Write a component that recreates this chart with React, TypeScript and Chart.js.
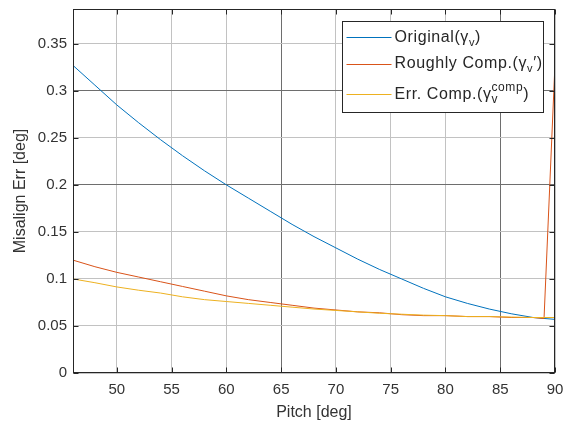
import React, { useEffect, useRef } from "react";
import { Chart, registerables } from "chart.js";

Chart.register(...registerables);

// ---- data ----
const pitch = [46, 48, 50, 52, 54, 56, 58, 60, 62, 64, 66, 68, 70, 72, 74, 76, 78, 80, 82, 84, 86, 88, 89, 90];
const original = [0.327, 0.306, 0.285, 0.266, 0.248, 0.231, 0.215, 0.2, 0.186, 0.172, 0.158, 0.145, 0.133, 0.121, 0.11, 0.1, 0.09, 0.081, 0.074, 0.068, 0.063, 0.059, 0.058, 0.057];
const roughlyComp = [0.12, 0.113, 0.107, 0.102, 0.097, 0.092, 0.087, 0.082, 0.078, 0.075, 0.072, 0.069, 0.067, 0.065, 0.064, 0.062, 0.061, 0.061, 0.06, 0.06, 0.059, 0.059, 0.058, 0.329];
const errComp = [0.1, 0.096, 0.0915, 0.088, 0.085, 0.081, 0.078, 0.076, 0.074, 0.072, 0.07, 0.068, 0.0665, 0.065, 0.0635, 0.0625, 0.0615, 0.061, 0.06, 0.06, 0.0595, 0.059, 0.059, 0.059];

const xTicks = [50, 55, 60, 65, 70, 75, 80, 85, 90];
const yTicks = [0, 0.05, 0.1, 0.15, 0.2, 0.25, 0.3, 0.35];

const xTitle = "Pitch [deg]";
const yTitle = "Misalign Err [deg]";

// legend label pieces: [text, kind]; kind: n = normal, sub, subsup = stacked sub "v" + sup text
const legendOriginal: [string, string][] = [["Original(γ", "n"], ["v", "sub"], [")", "n"]];
const legendRoughly: [string, string][] = [["Roughly Comp.(γ", "n"], ["v", "sub"], ["′)", "n"]];
const legendErr: [string, string][] = [["Err. Comp.(γ", "n"], ["v|comp", "subsup"], [")", "n"]];

const BLUE = "#0072BD";
const ORANGE = "#D95319";
const YELLOW = "#EDB120";
const TEXT = "#333333";
const FONT = "'Liberation Sans', Arial, Helvetica, sans-serif";

const darkX = [65, 85];
const darkY = [0.2, 0.3];

const matlabPlugin = {
  id: "matlabAxes",
  afterDatasetsDraw(chart: any) {
    const { ctx, chartArea, scales } = chart;
    const { left, right, top, bottom } = chartArea;
    const L = Math.round(left) + 0.5;
    const R = Math.round(right) - 0.5;
    const T = Math.round(top) + 0.5;
    const B = Math.round(bottom) - 0.5;
    ctx.save();
    ctx.strokeStyle = "#262626";
    ctx.lineWidth = 1;
    ctx.strokeRect(L, T, R - L, B - T);
    const tl = 5;
    ctx.beginPath();
    xTicks.forEach((v) => {
      const px = Math.round(scales.x.getPixelForValue(v)) + 0.5;
      ctx.moveTo(px, B);
      ctx.lineTo(px, B - tl);
      ctx.moveTo(px, T);
      ctx.lineTo(px, T + tl);
    });
    yTicks.forEach((v) => {
      const py = Math.round(scales.y.getPixelForValue(v)) + 0.5;
      ctx.moveTo(L, py);
      ctx.lineTo(L + tl, py);
      ctx.moveTo(R, py);
      ctx.lineTo(R - tl, py);
    });
    ctx.stroke();

    // legend
    const bw = 201;
    const bh = 91;
    const bx = Math.round(right) - 12 - bw + 0.5;
    const by = Math.round(top) + 12 + 0.5;
    ctx.fillStyle = "#ffffff";
    ctx.fillRect(bx, by, bw, bh);
    ctx.strokeStyle = "#262626";
    ctx.strokeRect(bx, by, bw, bh);

    const rows = [
      { color: BLUE, parts: legendOriginal, ly: 15, ty: 20 },
      { color: ORANGE, parts: legendRoughly, ly: 42, ty: 46 },
      { color: YELLOW, parts: legendErr, ly: 72, ty: 77 },
    ];
    rows.forEach((row) => {
      ctx.strokeStyle = row.color;
      ctx.lineWidth = 1;
      ctx.beginPath();
      ctx.moveTo(bx + 4, Math.round(by + row.ly) + 0.5);
      ctx.lineTo(bx + 49, Math.round(by + row.ly) + 0.5);
      ctx.stroke();
      let x = bx + 52;
      const base = by + row.ty;
      ctx.fillStyle = "#262626";
      ctx.textAlign = "left";
      ctx.textBaseline = "alphabetic";
      (ctx as any).letterSpacing = "0.6px";
      row.parts.forEach(([t, k]) => {
        if (k === "n") {
          ctx.font = `16px ${FONT}`;
          ctx.fillText(t, x, base);
          x += ctx.measureText(t).width;
        } else if (k === "sub") {
          ctx.font = `11px ${FONT}`;
          ctx.fillText(t, x, base + 4);
          x += ctx.measureText(t).width;
        } else {
          const [sb, sp] = t.split("|");
          ctx.font = `12px ${FONT}`;
          ctx.fillText(sb, x, base + 4);
          ctx.fillText(sp, x, base - 8);
          x += Math.max(ctx.measureText(sb).width, ctx.measureText(sp).width);
        }
      });
      (ctx as any).letterSpacing = "0px";
    });
    ctx.restore();
  },
};

export default function App() {
  const ref = useRef<HTMLCanvasElement | null>(null);
  useEffect(() => {
    if (!ref.current) return;
    const mk = (arr: number[]) => pitch.map((p, i) => ({ x: p, y: arr[i] }));
    const chart = new Chart(ref.current, {
      type: "line",
      data: {
        datasets: [
          { label: "Original", data: mk(original), borderColor: BLUE, borderWidth: 1, pointRadius: 0, fill: false, tension: 0, order: 3 },
          { label: "Roughly Comp.", data: mk(roughlyComp), borderColor: ORANGE, borderWidth: 1, pointRadius: 0, fill: false, tension: 0, order: 2 },
          { label: "Err. Comp.", data: mk(errComp), borderColor: YELLOW, borderWidth: 1, pointRadius: 0, fill: false, tension: 0, order: 1 },
        ],
      },
      options: {
        animation: false,
        responsive: false,
        devicePixelRatio: 1,
        layout: { padding: { top: 9, right: 17, left: 0, bottom: 0 } },
        plugins: { legend: { display: false }, tooltip: { enabled: false } },
        scales: {
          x: {
            type: "linear",
            min: 46,
            max: 90,
            afterBuildTicks: (s: any) => {
              s.ticks = xTicks.map((v) => ({ value: v }));
            },
            afterFit: (s: any) => {
              s.height = 52;
              s.paddingLeft = 0;
              s.paddingRight = 0;
            },
            ticks: { autoSkip: false, maxRotation: 0, padding: 8, color: TEXT, font: { family: FONT, size: 15 }, callback: (v: any) => String(v) },
            grid: {
              drawTicks: false,
              color: (c: any) => (darkX.includes(c.tick?.value) ? "#6e6e6e" : "#c2c2c2"),
              lineWidth: 1,
            },
            border: { display: false },
            title: { display: true, text: xTitle, color: TEXT, font: { family: FONT, size: 16 }, padding: { top: 0, bottom: 3 } },
          },
          y: {
            type: "linear",
            min: 0,
            max: 0.387,
            afterBuildTicks: (s: any) => {
              s.ticks = yTicks.map((v) => ({ value: v }));
            },
            afterFit: (s: any) => {
              s.width = 73;
              s.paddingTop = 0;
              s.paddingBottom = 0;
            },
            ticks: { autoSkip: false, padding: 6, color: TEXT, font: { family: FONT, size: 15 }, callback: (v: any) => String(+Number(v).toFixed(2)) },
            grid: {
              drawTicks: false,
              color: (c: any) => (darkY.some((d) => Math.abs(d - c.tick?.value) < 1e-9) ? "#6e6e6e" : "#c2c2c2"),
              lineWidth: 1,
            },
            border: { display: false },
            title: { display: true, text: yTitle, color: TEXT, font: { family: FONT, size: 16 }, padding: { top: 11, bottom: 0 } },
          },
        },
      },
      plugins: [matlabPlugin],
    } as any);
    return () => chart.destroy();
  }, []);
  return (
    <div style={{ position: "fixed", left: 0, top: 0, width: 572, height: 425, background: "#fff" }}>
      <canvas ref={ref} width={572} height={425} style={{ display: "block", width: 572, height: 425 }} />
    </div>
  );
}
